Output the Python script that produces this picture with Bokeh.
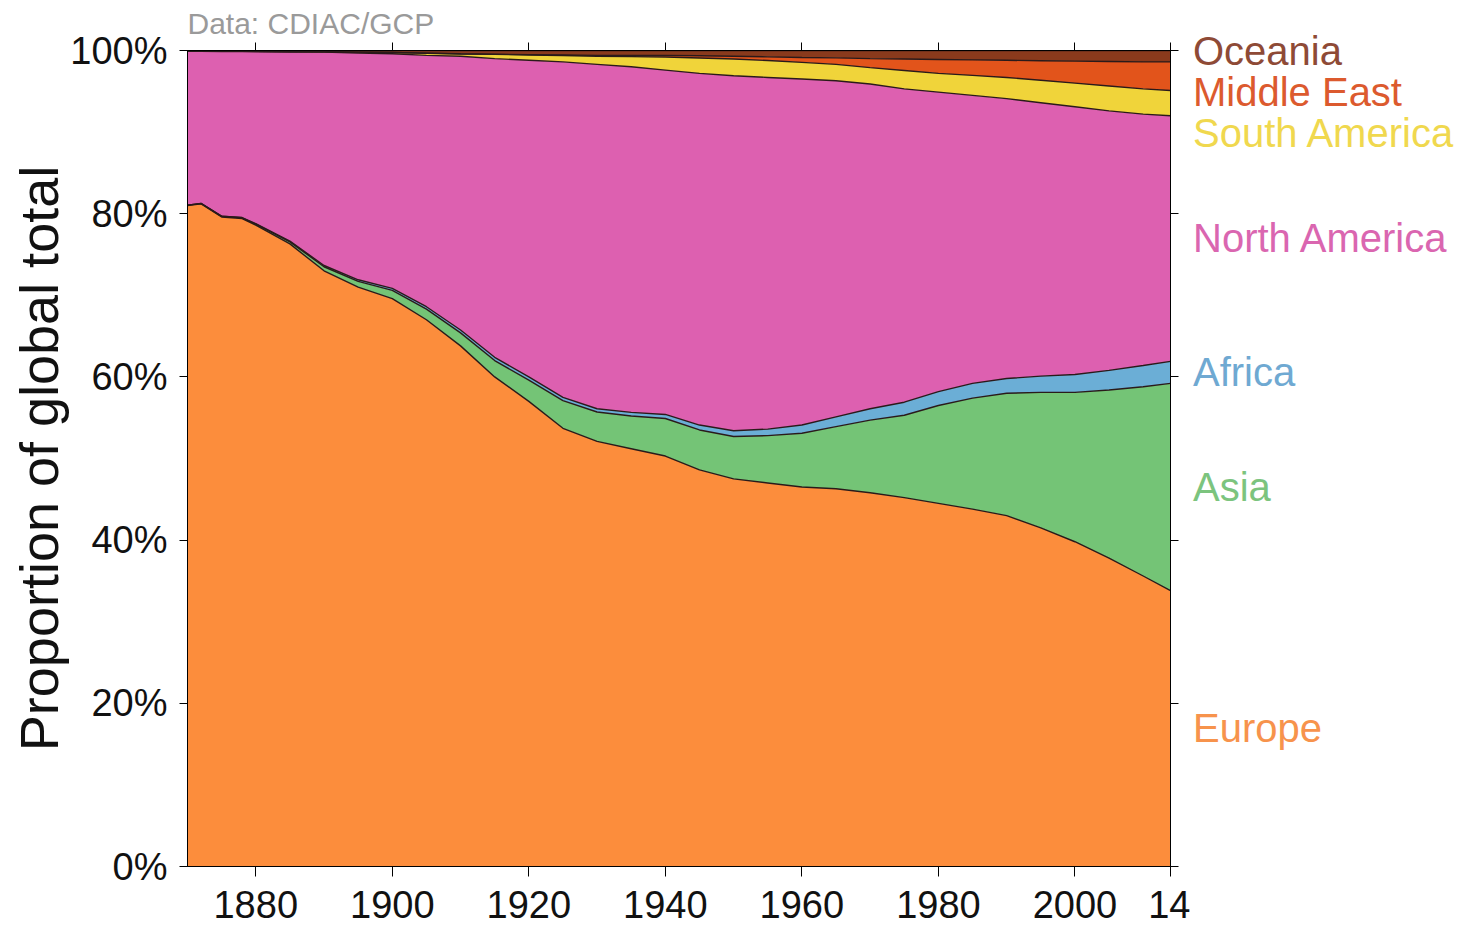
from bokeh.plotting import figure
from bokeh.layouts import row
from bokeh.models import (ColumnDataSource, Range1d, LinearAxis, FixedTicker,
                          PrintfTickFormatter, Title, Div)
from bokeh.embed import file_html
from bokeh.resources import INLINE

# ---------------- data (share of global total, %) ----------------
years = [1870, 1872, 1875, 1878, 1880, 1885, 1890, 1895, 1900, 1905, 1910, 1915,
         1920, 1925, 1930, 1935, 1940, 1945, 1950, 1955, 1960, 1965, 1970, 1975,
         1980, 1985, 1990, 1995, 2000, 2005, 2010, 2014]

europe = [81.0, 81.2, 79.6, 79.4, 78.6, 76.3, 73.0, 71.0, 69.6, 67.0, 63.8, 60.0,
          57.0, 53.7, 52.1, 51.2, 50.3, 48.6, 47.5, 47.0, 46.5, 46.3, 45.8, 45.2,
          44.5, 43.8, 43.0, 41.5, 39.8, 37.8, 35.6, 33.8]

asia = [0.05, 0.05, 0.08, 0.1, 0.12, 0.25, 0.5, 0.7, 1.0, 1.3, 1.6, 2.0,
        2.6, 3.4, 3.6, 4.0, 4.6, 4.9, 5.2, 5.8, 6.6, 7.6, 8.9, 10.1,
        12.0, 13.6, 15.0, 16.6, 18.3, 20.6, 23.2, 25.4]

africa = [0.0, 0.01, 0.02, 0.03, 0.05, 0.1, 0.15, 0.2, 0.25, 0.3, 0.35, 0.4,
          0.4, 0.4, 0.4, 0.45, 0.5, 0.6, 0.7, 0.8, 1.0, 1.2, 1.4, 1.6,
          1.7, 1.8, 1.8, 2.0, 2.2, 2.4, 2.6, 2.7]

north_america = [18.85, 18.64, 20.18, 20.33, 21.08, 23.17, 26.15, 27.8, 28.75, 30.8,
                 33.55, 36.6, 38.8, 41.1, 42.2, 42.35, 42.2, 43.1, 43.5, 43.1,
                 42.4, 41.2, 39.8, 38.4, 36.7, 35.3, 34.3, 33.5, 32.8, 31.8, 30.8, 30.1]

south_america = [0.05, 0.05, 0.06, 0.06, 0.05, 0.06, 0.05, 0.1, 0.15, 0.27, 0.28, 0.52,
                 0.65, 0.78, 1.0, 1.25, 1.6, 1.88, 2.05, 2.07, 2.05, 2.0, 2.0, 2.25,
                 2.3, 2.45, 2.6, 2.75, 2.9, 3.05, 3.1, 3.1]

middle_east = [0.0, 0.0, 0.0, 0.0, 0.0, 0.0, 0.0, 0.0, 0.0, 0.01, 0.02, 0.03,
               0.05, 0.07, 0.1, 0.15, 0.2, 0.27, 0.35, 0.45, 0.6, 0.8, 1.1, 1.4,
               1.7, 1.9, 2.1, 2.4, 2.7, 3.0, 3.3, 3.5]

oceania = [0.05, 0.05, 0.06, 0.08, 0.1, 0.12, 0.15, 0.2, 0.25, 0.32, 0.4, 0.45,
           0.5, 0.55, 0.6, 0.6, 0.6, 0.65, 0.7, 0.78, 0.85, 0.9, 1.0, 1.05,
           1.1, 1.15, 1.2, 1.25, 1.3, 1.35, 1.4, 1.4]

regions = ["Europe", "Asia", "Africa", "North America", "South America",
           "Middle East", "Oceania"]
x_ticks = [1880, 1900, 1920, 1940, 1960, 1980, 2000, 2014]
x_tick_labels = ["1880", "1900", "1920", "1940", "1960", "1980", "2000", "14"]
y_ticks = [0, 20, 40, 60, 80, 100]

# ---------------- styling ----------------
fill_colors = ["#FC8D3C", "#74C476", "#6BAED6", "#DD60B0", "#F0D43A", "#E2541B", "#8A3A1C"]
label_colors = ["#F7934C", "#7CC47E", "#6FA9D2", "#DA66B0", "#F0D84E", "#DC5A2E", "#8E4A36"]
FONT = "Liberation Sans"

TOP, BOTTOM, LEFT, RIGHT = 50, 64, 187, 20
FW, FH = 983, 816
LABEL_W = 268

source = ColumnDataSource(data={
    "year": years,
    "Europe": europe,
    "Asia": asia,
    "Africa": africa,
    "North America": north_america,
    "South America": south_america,
    "Middle East": middle_east,
    "Oceania": oceania,
})

p = figure(output_backend="svg", toolbar_location=None,
           x_range=Range1d(1870, 2014), y_range=Range1d(0, 100),
           min_border_left=LEFT, min_border_right=RIGHT, min_border_top=TOP,
           min_border_bottom=BOTTOM, background_fill_color="white",
           border_fill_color="white")
p.frame_width = FW
p.frame_height = FH
p.outline_line_color = "black"
p.outline_line_width = 1
p.xgrid.visible = False
p.ygrid.visible = False

p.varea_stack(stackers=regions, x="year", color=fill_colors, source=source)
p.vline_stack(stackers=regions, x="year", color="#2a1a1a", line_width=1.4, source=source)

# axes
xa = p.xaxis[0]
xa.ticker = FixedTicker(ticks=x_ticks)
xa.major_label_overrides = {t: l for t, l in zip(x_ticks, x_tick_labels)}
xa.minor_tick_line_color = None
xa.major_tick_in = 0
xa.major_tick_out = 10
xa.major_label_standoff = 14
xa.major_label_text_font = FONT
xa.major_label_text_font_size = "38px"
xa.major_label_text_color = "#111111"
xa.axis_line_color = "black"

ya = p.yaxis[0]
ya.ticker = FixedTicker(ticks=y_ticks)
ya.formatter = PrintfTickFormatter(format="%d%%")
ya.minor_tick_line_color = None
ya.major_tick_in = 0
ya.major_tick_out = 8
ya.major_label_standoff = 12
ya.major_label_text_font = FONT
ya.major_label_text_font_size = "38px"
ya.major_label_text_color = "#111111"
ya.axis_label = "Proportion of global total"
ya.axis_label_text_font = FONT
ya.axis_label_text_font_size = "54px"
ya.axis_label_text_font_style = "normal"
ya.axis_label_text_color = "#111111"
ya.axis_label_standoff = -2

ra = LinearAxis(ticker=FixedTicker(ticks=y_ticks),
                major_label_overrides={t: "" for t in y_ticks},
                major_tick_in=0, major_tick_out=8, minor_tick_line_color=None,
                major_label_standoff=0)
p.add_layout(ra, "right")
ta = LinearAxis(ticker=FixedTicker(ticks=x_ticks),
                major_label_overrides={t: "" for t in x_ticks},
                major_tick_in=0, major_tick_out=8, minor_tick_line_color=None,
                major_label_standoff=0)
p.add_layout(ta, "above")

p.add_layout(Title(text="Data: CDIAC/GCP", align="left", text_font=FONT,
                   text_font_size="30px", text_font_style="normal",
                   text_color="#9a9a9a", standoff=6), "above")

# ---------------- right-hand labels (HTML text beside the plot) ----------------
ppu = FH / 100.0
last = {name: source.data[name][-1] for name in regions}
mids = []
base = 0.0
for name in regions:
    mids.append(base + last[name] / 2.0)
    base += last[name]
label_y = list(mids)
gap = 5.0
top_anchor = 99.85
prev = None
for i in range(len(regions) - 1, -1, -1):
    y = max(label_y[i], top_anchor) if prev is None else min(label_y[i], prev - gap)
    label_y[i] = y
    prev = y

total_h = TOP + FH + BOTTOM
spans = []
for name, y, c in zip(regions, label_y, label_colors):
    cy = TOP + (100.0 - y) * ppu
    spans.append(
        f'<div style="position:absolute;left:3px;top:{cy:.1f}px;'
        f'transform:translateY(-50%);font-family:\'{FONT}\';font-size:40px;'
        f'line-height:1;white-space:nowrap;color:{c}">{name}</div>')
html = (f'<div style="position:relative;width:{LABEL_W}px;height:{total_h}px;'
        f'margin:0;padding:0">' + "".join(spans) + '</div>')
labels_div = Div(text=html, width=LABEL_W, height=total_h,
                 styles={"margin": "0", "padding": "0"})

layout = row(p, labels_div)
open("out.html", "w").write(file_html(layout, INLINE))
